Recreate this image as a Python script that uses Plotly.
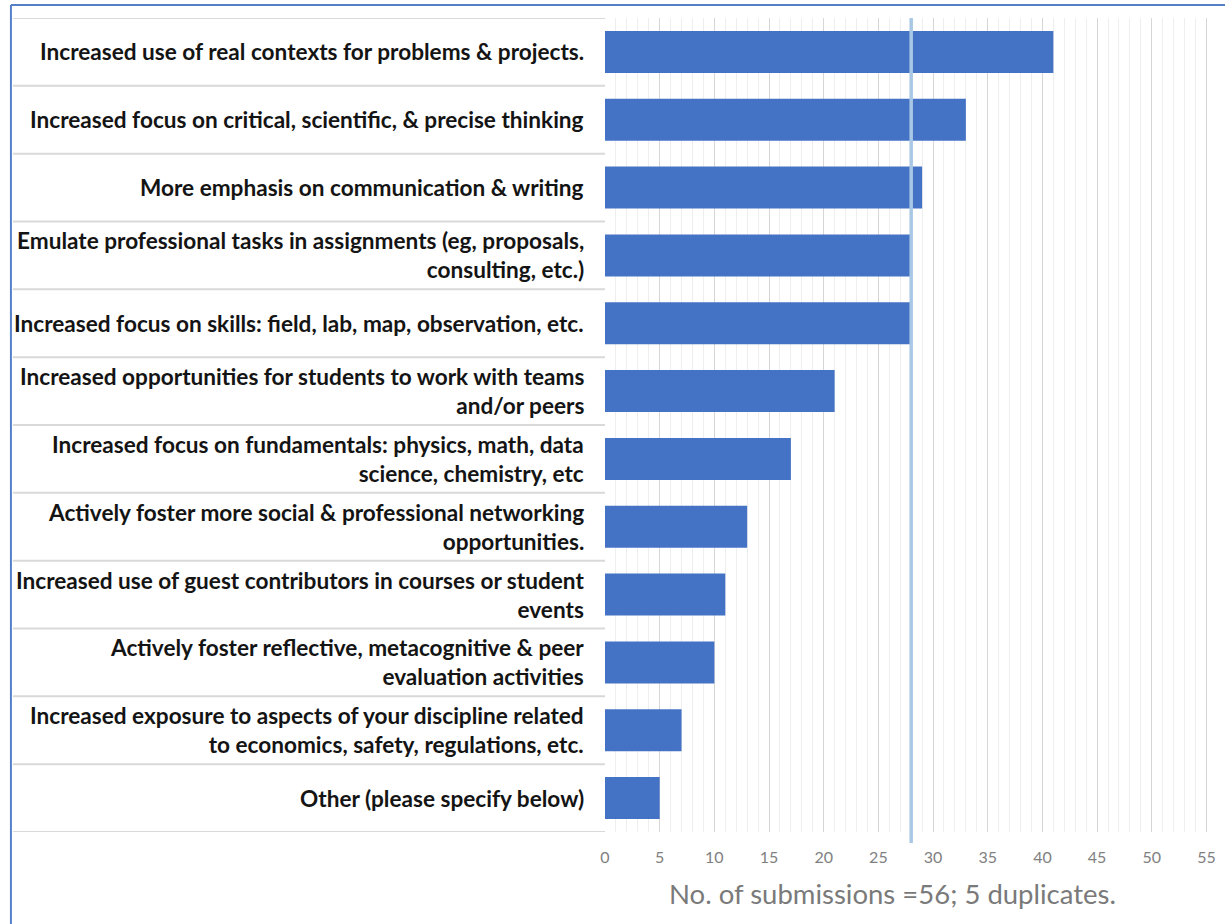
import plotly.graph_objects as go

# Survey responses: suggested curriculum changes and how many submissions named each
categories = [
    "Increased use of real contexts for problems & projects.",
    "Increased focus on critical, scientific, & precise thinking",
    "More emphasis on communication & writing",
    "Emulate professional tasks in assignments (eg, proposals,<br>consulting, etc.)",
    "Increased focus on skills: field, lab, map, observation, etc.",
    "Increased opportunities for students to work with teams<br>and/or peers",
    "Increased focus on fundamentals: physics, math, data<br>science, chemistry, etc",
    "Actively foster more social & professional networking<br>opportunities.",
    "Increased use of guest contributors in courses or student<br>events",
    "Actively foster reflective, metacognitive & peer<br>evaluation activities",
    "Increased exposure to aspects of your discipline related<br>to economics, safety, regulations, etc.",
    "Other (please specify below)",
]
counts = [41, 33, 29, 28, 28, 21, 17, 13, 11, 10, 7, 5]
tick_values = [0, 5, 10, 15, 20, 25, 30, 35, 40, 45, 50, 55]
total_submissions = 56
half_mark = total_submissions / 2
axis_note = "No. of submissions =56; 5 duplicates."

W, H = 1225, 924
ML, MR, MT, MB = 605, 9, 18, 92
plot_w = W - ML - MR
plot_h = H - MT - MB

def px_x(px):
    return (px - ML) / plot_w

def px_y(py):
    return (H - MB - py) / plot_h

FONT = "Lato, 'Open Sans', sans-serif"
positions = list(range(len(categories)))

fig = go.Figure()
fig.add_trace(go.Bar(
    x=counts,
    y=positions,
    orientation="h",
    width=0.62,
    marker=dict(color="#4472C4", line=dict(width=0)),
    hoverinfo="x",
))

shapes = []
# row separators in the label column
for i in range(len(categories) + 1):
    yb = i - 0.5
    shapes.append(dict(
        type="line", xref="paper", yref="y",
        x0=px_x(10), x1=px_x(605), y0=yb, y1=yb,
        line=dict(color="#d9d9d9", width=2), layer="below",
    ))
# reference line at half of the submissions
shapes.append(dict(
    type="line", xref="x", yref="paper",
    x0=half_mark, x1=half_mark, y0=1.0, y1=px_y(843),
    line=dict(color="#a9c8e6", width=3.5), layer="above",
))
# outer frame (left and top edges)
shapes.append(dict(
    type="line", xref="paper", yref="paper",
    x0=px_x(8), x1=px_x(8), y0=px_y(5), y1=px_y(940),
    line=dict(color="#5580c8", width=2),
))
shapes.append(dict(
    type="line", xref="paper", yref="paper",
    x0=px_x(8), x1=px_x(1240), y0=px_y(5), y1=px_y(5),
    line=dict(color="#5580c8", width=2),
))

annotations = []
for pos, label in zip(positions, categories):
    annotations.append(dict(
        x=0, xref="paper", y=pos, yref="y",
        xanchor="right", yanchor="middle", xshift=-19,
        text="<b>" + label + "</b>", align="right", showarrow=False,
        font=dict(family=FONT, size=22.6, color="#141414"),
    ))
annotations.append(dict(
    x=px_x(894), xref="paper", y=px_y(894), yref="paper",
    xanchor="center", yanchor="middle",
    text=axis_note, showarrow=False,
    font=dict(family=FONT, size=27.5, color="#7a7a7a"),
))

fig.update_layout(
    width=W, height=H,
    margin=dict(l=ML, r=MR, t=MT, b=MB),
    paper_bgcolor="white", plot_bgcolor="white",
    showlegend=False,
    bargap=0.38,
    shapes=shapes,
    annotations=annotations,
    xaxis=dict(
        range=[0, 55.6],
        tickvals=tick_values,
        ticktext=[str(v) for v in tick_values],
        showgrid=True, gridcolor="#d6d6d6", gridwidth=1,
        minor=dict(dtick=1, showgrid=True, gridcolor="#eeeeee", gridwidth=1),
        zeroline=False, showline=False, ticks="",
        tickfont=dict(family=FONT, size=16, color="#808080"),
        ticklabelstandoff=14,
    ),
    yaxis=dict(
        range=[len(categories) - 0.5, -0.5],
        showticklabels=False, showgrid=False, zeroline=False,
        showline=False, ticks="",
    ),
)

fig.write_html("out.html")
